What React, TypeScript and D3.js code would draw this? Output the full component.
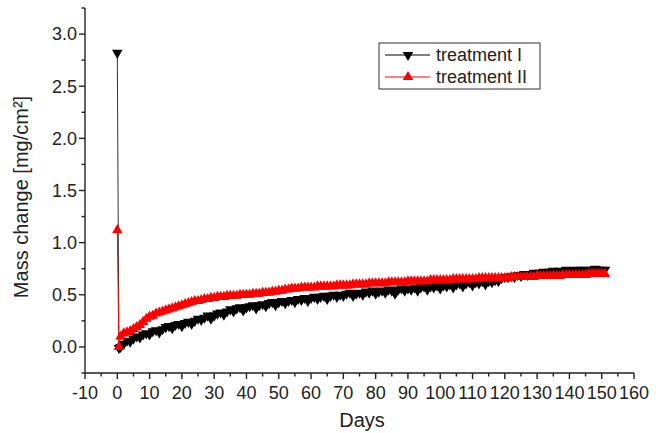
import React from "react";
import * as d3 from "d3";

// sampling days: the initial spike, the drop, then one point a day
const startDays = [0, 0.5];
const dailyDays = d3.range(1, 152);

const treatmentIStart = [2.82, -0.01];
const treatmentIDaily = [
  0.0, 0.03, 0.06, 0.05, 0.08, 0.1, 0.09, 0.12, 0.13, 0.12,
  0.15, 0.16, 0.14, 0.17, 0.19, 0.2, 0.18, 0.21, 0.22, 0.2,
  0.23, 0.24, 0.22, 0.25, 0.27, 0.26, 0.28, 0.3, 0.27, 0.3,
  0.32, 0.33, 0.31, 0.34, 0.36, 0.34, 0.37, 0.38, 0.35, 0.38,
  0.39, 0.4, 0.37, 0.4, 0.41, 0.39, 0.42, 0.43, 0.4, 0.43,
  0.44, 0.42, 0.44, 0.45, 0.43, 0.46, 0.45, 0.47, 0.44, 0.47,
  0.48, 0.46, 0.48, 0.49, 0.46, 0.49, 0.5, 0.48, 0.5, 0.49,
  0.51, 0.52, 0.49, 0.51, 0.52, 0.5, 0.53, 0.52, 0.54, 0.51,
  0.53, 0.54, 0.52, 0.55, 0.54, 0.51, 0.55, 0.56, 0.54, 0.56,
  0.55, 0.57, 0.54, 0.57, 0.58, 0.55, 0.58, 0.57, 0.59, 0.56,
  0.59, 0.58, 0.6, 0.57, 0.6, 0.61, 0.58, 0.61, 0.62, 0.59,
  0.62, 0.61, 0.63, 0.6, 0.63, 0.62, 0.64, 0.63, 0.66, 0.67,
  0.67, 0.68, 0.67, 0.69, 0.68, 0.7, 0.69, 0.7, 0.71, 0.7,
  0.71, 0.72, 0.71, 0.72, 0.73, 0.72, 0.73, 0.72, 0.74, 0.73,
  0.73, 0.74, 0.73, 0.74, 0.74, 0.73, 0.74, 0.75, 0.74, 0.74,
  0.74,
];

const treatmentIIStart = [1.12, 0.0];
const treatmentIIDaily = [
  0.1, 0.13, 0.14, 0.15, 0.17, 0.19, 0.21, 0.24, 0.27, 0.29,
  0.3, 0.32, 0.33, 0.34, 0.35, 0.36, 0.37, 0.38, 0.39, 0.4,
  0.41, 0.42, 0.43, 0.44, 0.44, 0.45, 0.46, 0.46, 0.47, 0.47,
  0.48, 0.48, 0.48, 0.49, 0.49, 0.49, 0.49, 0.5, 0.5, 0.5,
  0.5, 0.51, 0.51, 0.51, 0.52, 0.52, 0.52, 0.53, 0.53, 0.54,
  0.54, 0.55, 0.55, 0.56, 0.56, 0.56, 0.57, 0.57, 0.57, 0.57,
  0.57, 0.58, 0.58, 0.58, 0.58, 0.58, 0.58, 0.59, 0.59, 0.59,
  0.59, 0.59, 0.6, 0.6, 0.6, 0.6, 0.6, 0.61, 0.61, 0.61,
  0.61, 0.61, 0.61, 0.62, 0.62, 0.62, 0.62, 0.62, 0.62, 0.63,
  0.63, 0.63, 0.63, 0.63, 0.63, 0.63, 0.64, 0.64, 0.64, 0.64,
  0.64, 0.64, 0.64, 0.65, 0.65, 0.65, 0.65, 0.65, 0.65, 0.65,
  0.65, 0.66, 0.66, 0.66, 0.66, 0.66, 0.66, 0.66, 0.66, 0.66,
  0.66, 0.67, 0.67, 0.67, 0.67, 0.67, 0.67, 0.67, 0.67, 0.68,
  0.68, 0.68, 0.68, 0.68, 0.68, 0.68, 0.68, 0.69, 0.69, 0.69,
  0.69, 0.69, 0.69, 0.69, 0.69, 0.7, 0.7, 0.7, 0.7, 0.7,
  0.7,
];

const xMajorTicks = d3.range(-10, 161, 10);
const xMinorTicks = d3.range(-5, 160, 10);
const yMajorTicks = [0, 0.5, 1, 1.5, 2, 2.5, 3];
const yMinorTicks = [-0.25, 0.25, 0.75, 1.25, 1.75, 2.25, 2.75, 3.25];

const seriesNames = ["treatment I", "treatment II"];
const seriesColors = ["#000000", "#ff0000"];

const width = 666;
const height = 433;
const margin = { top: 8, right: 32, bottom: 60, left: 85 };
const font = "Arial, 'Liberation Sans', sans-serif";

const x = d3.scaleLinear().domain([-10, 160]).range([margin.left, width - margin.right]);
const y = d3.scaleLinear().domain([-0.25, 3.25]).range([height - margin.bottom, margin.top]);

type Pt = { d: number; v: number };
const zip = (days: number[], vals: number[]): Pt[] => days.map((d, i) => ({ d, v: vals[i] }));

const series: Pt[][] = [
  zip(startDays.concat(dailyDays), treatmentIStart.concat(treatmentIDaily)),
  zip(startDays.concat(dailyDays), treatmentIIStart.concat(treatmentIIDaily)),
];

const line = d3
  .line<Pt>()
  .x((p) => x(p.d))
  .y((p) => y(p.v));

const tri = d3.symbol().type(d3.symbolTriangle).size(48)() as string;

const App = () => {
  const x0 = margin.left;
  const yB = height - margin.bottom;
  return (
    <svg width={width} height={height} style={{ position: "absolute", left: 0, top: 0, background: "#fff" }}>
      {/* series */}
      {series.map((pts, s) => (
        <g key={s}>
          <path d={line(pts) as string} fill="none" stroke={s === 0 ? "#333" : seriesColors[1]} strokeWidth={1} />
          {pts.map((p, i) => (
            <path
              key={i}
              d={tri}
              fill={seriesColors[s]}
              transform={`translate(${x(p.d)},${y(p.v)})${s === 0 ? " rotate(180)" : ""}`}
            />
          ))}
        </g>
      ))}

      {/* axes */}
      <g stroke="#222" strokeWidth={1.4}>
        <line x1={x0} x2={x0} y1={margin.top} y2={yB} />
        <line x1={x0} x2={width - margin.right} y1={yB} y2={yB} />
        {xMajorTicks.map((t) => (
          <line key={"xM" + t} x1={x(t)} x2={x(t)} y1={yB} y2={yB + 6} />
        ))}
        {xMinorTicks.map((t) => (
          <line key={"xm" + t} x1={x(t)} x2={x(t)} y1={yB} y2={yB + 3.5} />
        ))}
        {yMajorTicks.map((t) => (
          <line key={"yM" + t} x1={x0 - 6} x2={x0} y1={y(t)} y2={y(t)} />
        ))}
        {yMinorTicks.map((t) => (
          <line key={"ym" + t} x1={x0 - 3.5} x2={x0} y1={y(t)} y2={y(t)} />
        ))}
      </g>
      <g fontFamily={font} fontSize={18} fill="#222">
        {xMajorTicks.map((t) => (
          <text key={t} x={x(t)} y={yB + 26} textAnchor="middle">
            {t}
          </text>
        ))}
        {yMajorTicks.map((t) => (
          <text key={t} x={x0 - 8} y={y(t)} dy="0.35em" textAnchor="end">
            {d3.format(".1f")(t)}
          </text>
        ))}
      </g>
      <text x={362} y={427} textAnchor="middle" fontFamily={font} fontSize={20} fill="#222">
        Days
      </text>
      <text
        transform={`translate(27.5,197) rotate(-90)`}
        textAnchor="middle"
        fontFamily={font}
        fontSize={20}
        fill="#222"
      >
        Mass change [mg/cm²]
      </text>

      {/* legend */}
      <g>
        <rect x={379} y={43} width={161} height={46} fill="#fff" stroke="#333" strokeWidth={1} />
        {seriesNames.map((n, i) => (
          <g key={n} transform={`translate(0,${55 + i * 22})`}>
            <line x1={385} x2={430} y1={0} y2={0} stroke={seriesColors[i]} strokeWidth={1} />
            <path d={tri} fill={seriesColors[i]} transform={`translate(408,0)${i === 0 ? " rotate(180)" : ""}`} />
            <text x={436} y={0} dy="0.35em" fontFamily={font} fontSize={18} fill="#222">
              {n}
            </text>
          </g>
        ))}
      </g>
    </svg>
  );
};

export default App;
